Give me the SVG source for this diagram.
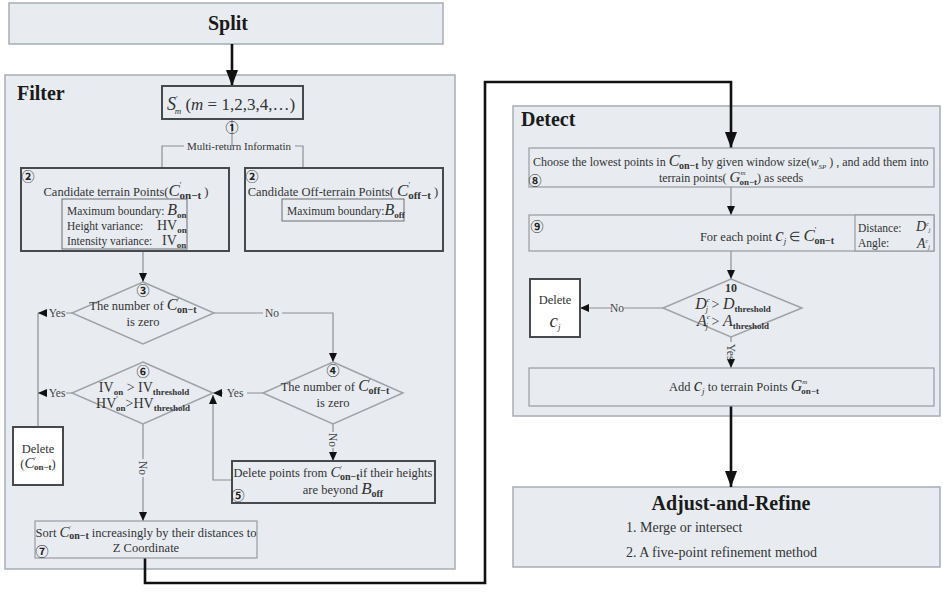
<svg xmlns="http://www.w3.org/2000/svg" width="943" height="592" viewBox="0 0 943 592">
<defs>
<style>
text{font-family:"Liberation Serif","Times New Roman",serif;fill:#333}
.panel{fill:#e8ecf1;stroke:#a6adb4;stroke-width:1.5}
.boxd{fill:#e8ecf1;stroke:#474a4d;stroke-width:2}
.boxi{fill:#e8ecf1;stroke:#6a6e72;stroke-width:1}
.boxl{fill:#e8ecf1;stroke:#969ca2;stroke-width:1.2}
.boxw{fill:#ffffff;stroke:#474a4d;stroke-width:2}
.dia{fill:#e8ecf1;stroke:#9ea3a8;stroke-width:1.5}
.ln{fill:none;stroke:#8c9094;stroke-width:1.2}
.thick{fill:none;stroke:#111;stroke-width:2.6}
.title{font-weight:bold;font-size:20px;fill:#1a1a1a}
.t{font-size:12.5px}
.s{font-size:11.5px}
.m{font-style:italic}
.b{font-weight:bold}
.num{font-family:"Noto Sans CJK SC","DejaVu Sans",sans-serif;font-size:13px;fill:#222;font-weight:bold}
.lab{font-size:11.5px;fill:#444}
</style>
<marker id="ta" viewBox="0 0 10 10" refX="10" refY="5" markerWidth="9" markerHeight="8" markerUnits="userSpaceOnUse" orient="auto" preserveAspectRatio="none"><path d="M0,0 L10,5 L0,10 z" fill="#111"/></marker>
<marker id="ka" viewBox="0 0 10 10" refX="10" refY="5" markerWidth="16" markerHeight="12" markerUnits="userSpaceOnUse" orient="auto" preserveAspectRatio="none"><path d="M0,0 L10,5 L0,10 z" fill="#111"/></marker>
</defs>

<g id="split"><rect class="panel" x="9" y="3" width="434" height="41"/><text class="title" x="228" y="30" text-anchor="middle">Split</text></g>

<g id="filter"><rect class="panel" x="5" y="75" width="450" height="494"/><text class="title" x="17" y="100">Filter</text></g>

<g id="detect"><rect class="panel" x="513" y="106" width="427" height="310"/><text class="title" x="521" y="126">Detect</text></g>

<g id="adjust"><rect class="panel" x="513" y="487" width="427" height="80"/>
<text class="title" x="731" y="510" text-anchor="middle" font-size="19">Adjust-and-Refine</text>
<text x="626" y="532" font-size="14">1. Merge or intersect</text>
<text x="626" y="557" font-size="14">2. A five-point refinement method</text></g>

<g id="connectors">
<path class="thick" d="M232,44 V86" marker-end="url(#ka)"/>
<path class="thick" d="M145,558 V583 H485 V82 H731 V148" marker-end="url(#ka)"/>
<path class="thick" d="M731,406 V487" marker-end="url(#ka)"/>
<path class="ln" d="M232,119 V146"/>
<path class="ln" d="M184,146 H162 V168 M295,146 H303 V168"/>
<path class="ln" d="M143,251 V282" marker-end="url(#ta)"/>
<path class="ln" d="M72,313 H66 M38,313 V427"/>
<path class="ln" d="M47,313 H38" marker-end="url(#ta)"/>
<path class="ln" d="M72,393 H66 M47,393 H38" marker-end="url(#ta)"/>
<path class="ln" d="M214,313 H263 M282,313 H333 V362" marker-end="url(#ta)"/>
<path class="ln" d="M263,393 H247 M223,393 H213" marker-end="url(#ta)"/>
<path class="ln" d="M333,424 V432 M333,448 V461" marker-end="url(#ta)"/>
<path class="ln" d="M232,480 H213 V395" marker-end="url(#ta)"/>
<path class="ln" d="M143,424 V459 M143,477 V521" marker-end="url(#ta)"/>
<path class="ln" d="M731,187 V215" marker-end="url(#ta)"/>
<path class="ln" d="M731,251 V279" marker-end="url(#ta)"/>
<path class="ln" d="M663,308 H624 M611,308 H580" marker-end="url(#ta)"/>
<path class="ln" d="M731,337 V342 M731,362 V368" marker-end="url(#ta)"/>
<text class="lab" x="57" y="317" text-anchor="middle">Yes</text>
<text class="lab" x="57" y="397" text-anchor="middle">Yes</text>
<text class="lab" x="272" y="317" text-anchor="middle">No</text>
<text class="lab" x="235" y="397" text-anchor="middle">Yes</text>
<text class="lab" transform="translate(329,440) rotate(90)" text-anchor="middle">No</text>
<text class="lab" transform="translate(139,468) rotate(90)" text-anchor="middle">No</text>
<text class="lab" x="617" y="312" text-anchor="middle">No</text>
<text class="lab" transform="translate(727,352) rotate(90)" text-anchor="middle">Yes</text>
</g>

<g id="s-box"><rect class="boxd" x="162" y="86" width="141" height="33"/>
<text x="231" y="110" text-anchor="middle" font-size="17"><tspan class="m" font-size="18">S</tspan><tspan font-size="8" dy="-8">′</tspan><tspan class="m" font-size="9" dx="-3" dy="12">m</tspan><tspan dy="-4"> (</tspan><tspan class="m">m</tspan> = 1,2,3,4,…)</text></g>

<g id="step1"><text class="num" x="232" y="132" text-anchor="middle">①</text>
<text x="239" y="150" text-anchor="middle" font-size="11" fill="#444">Multi-return Informatin</text></g>

<g id="candidate-on"><rect class="boxd" x="21" y="168" width="208" height="83"/>
<text class="num" x="28" y="181" text-anchor="middle">②</text>
<text class="t" x="126" y="196" text-anchor="middle">Candidate terrain Points(<tspan class="m" font-size="17">C</tspan><tspan font-size="8" dy="-8">′</tspan><tspan class="b" font-size="11" dx="-2" dy="11">on−t</tspan><tspan dy="-3"> )</tspan></text>
<rect class="boxi" x="62" y="199" width="125" height="50"/>
<text class="s" x="67" y="215">Maximum boundary: <tspan class="m" font-size="16">B</tspan><tspan font-size="9" class="b" dy="3">on</tspan></text>
<text class="s" x="67" y="230">Height variance:<tspan x="157" font-size="14">HV</tspan><tspan font-size="9" class="b" dy="3">on</tspan></text>
<text class="s" x="67" y="245">Intensity variance:<tspan x="162" font-size="14">IV</tspan><tspan font-size="9" class="b" dy="3">on</tspan></text></g>

<g id="candidate-off"><rect class="boxd" x="245" y="168" width="198" height="83"/>
<text class="num" x="252" y="181" text-anchor="middle">②</text>
<text class="t" x="343" y="196" text-anchor="middle">Candidate Off-terrain Points( <tspan class="m" font-size="17">C</tspan><tspan font-size="8" dy="-8">′</tspan><tspan class="b" font-size="11" dx="-2" dy="11">off−t</tspan><tspan dy="-3">  )</tspan></text>
<rect class="boxi" x="282" y="199" width="122" height="22"/>
<text class="s" x="287" y="215">Maximum boundary:<tspan class="m" font-size="16">B</tspan><tspan font-size="9" class="b" dy="3">off</tspan></text></g>

<g id="decision3"><polygon class="dia" points="143,282 214,313 143,344 72,313"/>
<text class="num" x="143" y="295" text-anchor="middle">③</text>
<text class="t" x="143" y="310" text-anchor="middle">The number of <tspan class="m" font-size="16">C</tspan><tspan font-size="8" dy="-6">′</tspan><tspan class="b" font-size="10" dx="-2" dy="9">on−t</tspan></text>
<text class="t" x="143" y="326" text-anchor="middle">is zero</text></g>

<g id="decision4"><polygon class="dia" points="333,362 403,393 333,424 263,393"/>
<text class="num" x="333" y="375" text-anchor="middle">④</text>
<text class="t" x="335" y="391" text-anchor="middle">The number of <tspan class="m" font-size="16">C</tspan><tspan font-size="8" dy="-6">′</tspan><tspan class="b" font-size="10" dx="-2" dy="9">off−t</tspan></text>
<text class="t" x="333" y="407" text-anchor="middle">is zero</text></g>

<g id="decision6"><polygon class="dia" points="143,362 213,393 143,424 72,393"/>
<text class="num" x="143" y="376" text-anchor="middle">⑥</text>
<text x="144" y="392" text-anchor="middle" font-size="14">IV<tspan font-size="9" class="b" dy="3">on</tspan><tspan dy="-3">  &gt; IV</tspan><tspan font-size="9" class="b" dy="3">threshold</tspan></text>
<text x="143" y="408" text-anchor="middle" font-size="14">HV<tspan font-size="8" dy="-6">′</tspan><tspan font-size="9" class="b" dx="-2" dy="9">on</tspan><tspan dy="-3">&gt;HV</tspan><tspan font-size="9" class="b" dy="3">threshold</tspan></text></g>

<g id="delete-on"><rect class="boxw" x="13" y="427" width="50" height="58"/>
<text class="t" x="38" y="453" text-anchor="middle">Delete</text>
<text class="t" x="38" y="468" text-anchor="middle">(<tspan class="m" font-size="15">C</tspan><tspan font-size="7" dy="-7">′</tspan><tspan class="b" font-size="9" dx="-2" dy="9">on−t</tspan><tspan dy="-2">)</tspan></text></g>

<g id="step5"><rect class="boxd" x="232" y="461" width="203" height="42"/>
<text class="t" x="333" y="477" text-anchor="middle">Delete points from <tspan class="m" font-size="15">C</tspan><tspan font-size="7" dy="-7">′</tspan><tspan class="b" font-size="10" dx="-2" dy="10">on−t</tspan><tspan dy="-3">if their heights</tspan></text>
<text class="t" x="343" y="494" text-anchor="middle">are beyond <tspan class="m" font-size="17">B</tspan><tspan class="b" font-size="10" dy="3">off</tspan></text>
<text class="num" x="238" y="500" text-anchor="middle">⑤</text></g>

<g id="step7"><rect class="boxl" x="35" y="521" width="222" height="37"/>
<text class="t" x="146" y="537" text-anchor="middle">Sort  <tspan class="m" font-size="15">C</tspan><tspan font-size="7" dy="-7">′</tspan><tspan class="b" font-size="10" dx="-2" dy="9">on−t</tspan><tspan dy="-2"> increasingly by their distances to</tspan></text>
<text class="t" x="146" y="552" text-anchor="middle">Z Coordinate</text>
<text class="num" x="42" y="556" text-anchor="middle">⑦</text></g>

<g id="step8"><rect class="boxl" x="529" y="148" width="405" height="39"/>
<text x="533" y="166" font-size="12">Choose the lowest points  in <tspan class="m" font-size="16">C</tspan><tspan font-size="7" dy="-7">′</tspan><tspan class="b" font-size="10" dx="-2" dy="10">on−t</tspan><tspan dy="-3">  by given window size(</tspan><tspan class="m" font-size="12">w</tspan><tspan class="m" font-size="7" dy="3">SP</tspan><tspan dy="-3"> ) , and add them into</tspan></text>
<text x="731" y="182" text-anchor="middle" font-size="12">terrain points( <tspan class="m" font-size="15">G</tspan><tspan class="m" font-size="7" dy="-7">m</tspan><tspan class="b" font-size="9" dx="-6" dy="10">on−t</tspan><tspan dy="-3">) as seeds</tspan></text>
<text class="num" x="535" y="185" text-anchor="middle">⑧</text></g>

<g id="step9"><rect class="boxl" x="529" y="215" width="405" height="36"/>
<rect class="boxl" x="855" y="215" width="79" height="36"/>
<text class="num" x="537" y="231" text-anchor="middle">⑨</text>
<text class="t" x="767" y="241" text-anchor="middle">For each point  <tspan class="m" font-size="19">c</tspan><tspan class="m" font-size="9" dy="3">j</tspan><tspan dy="-3">  ∈ </tspan><tspan class="m" font-size="17">C</tspan><tspan font-size="8" dy="-8">′</tspan><tspan class="b" font-size="10" dx="-2" dy="11">on−t</tspan></text>
<text class="s" x="858" y="232">Distance:</text>
<text x="916" y="231" font-size="14"><tspan class="m">D</tspan><tspan class="m" font-size="6" dy="-5">c</tspan><tspan class="m" font-size="6" dy="6">j</tspan></text>
<text class="s" x="858" y="247">Angle:</text>
<text x="917" y="248" font-size="14"><tspan class="m">A</tspan><tspan class="m" font-size="6" dy="-5">c</tspan><tspan class="m" font-size="6" dy="6">j</tspan></text></g>

<g id="decision10"><polygon class="dia" points="731,279 802,308 731,337 663,308"/>
<text x="731" y="292" text-anchor="middle" font-size="12" class="b" fill="#222">10</text>
<text x="733" y="309" text-anchor="middle" font-size="14"><tspan class="m" font-size="16">D</tspan><tspan class="m" font-size="7" dy="-7">c</tspan><tspan class="m" font-size="8" dx="-4" dy="10">j</tspan><tspan dy="-3"> &gt; </tspan><tspan class="m" font-size="16">D</tspan><tspan class="b" font-size="9" dy="3">threshold</tspan></text>
<text x="733" y="326" text-anchor="middle" font-size="14"><tspan class="m" font-size="16">A</tspan><tspan class="m" font-size="7" dy="-7">c</tspan><tspan class="m" font-size="8" dx="-4" dy="10">j</tspan><tspan dy="-3"> &gt; </tspan><tspan class="m" font-size="16">A</tspan><tspan class="b" font-size="9" dy="3">threshold</tspan></text></g>

<g id="delete-cj"><rect class="boxw" x="530" y="279" width="50" height="58"/>
<text class="t" x="555" y="304" text-anchor="middle">Delete</text>
<text x="555" y="327" text-anchor="middle"><tspan class="m" font-size="19">c</tspan><tspan class="m" font-size="9" dy="3">j</tspan></text></g>

<g id="add"><rect class="boxl" x="529" y="368" width="405" height="38"/>
<text class="t" x="744" y="391" text-anchor="middle">Add  <tspan class="m" font-size="19">c</tspan><tspan class="m" font-size="9" dy="3">j</tspan><tspan dy="-3"> to terrain Points </tspan><tspan class="m" font-size="16">G</tspan><tspan class="m" font-size="7" dy="-7">m</tspan><tspan class="b" font-size="9" dx="-6" dy="10">on−t</tspan></text></g>
</svg>
